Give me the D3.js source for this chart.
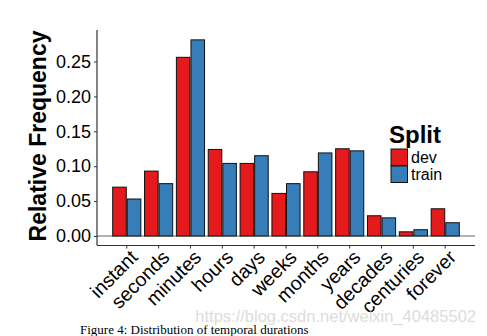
<!DOCTYPE html>
<html><head><meta charset="utf-8">
<script src="https://cdn.jsdelivr.net/npm/d3@7"></script>
<style>body{margin:0;background:#fff}svg{display:block}</style>
</head><body>
<script>
const categories = ["instant","seconds","minutes","hours","days","weeks","months","years","decades","centuries","forever"];
const devValues   = [0.070,0.093,0.256,0.124,0.104,0.061,0.092,0.125,0.029,0.006,0.039];
const trainValues = [0.053,0.075,0.281,0.104,0.115,0.075,0.119,0.122,0.026,0.009,0.019];
const series = ["dev","train"];
const colors = ["#E41A1C","#377EB8"];
const yTicks = [0,0.05,0.10,0.15,0.20,0.25];

const W=487,H=336;
const svg=d3.select("body").append("svg").attr("width",W).attr("height",H);
const font="'Liberation Sans', Arial, Helvetica, sans-serif";

const x=d3.scaleBand().domain(categories).range([112.2,459.8]).paddingInner(0.085).paddingOuter(0);
const xs=d3.scaleBand().domain(series).range([0,x.bandwidth()]);
const y=d3.scaleLinear().domain([0,0.25]).range([236,61.5]);

// zero line
svg.append("line").attr("x1",97).attr("x2",475).attr("y1",y(0)).attr("y2",y(0)).attr("stroke","#666").attr("stroke-width",1.2);

// bars
const data=categories.map((c,i)=>({c,vals:[devValues[i],trainValues[i]]}));
const g=svg.append("g");
data.forEach(d=>{
  d.vals.forEach((v,j)=>{
    g.append("rect")
     .attr("x",x(d.c)+xs(series[j])+0.5)
     .attr("y",y(v))
     .attr("width",xs.bandwidth()-1)
     .attr("height",y(0)-y(v))
     .attr("fill",colors[j]).attr("stroke","#111").attr("stroke-width",1);
  });
});

// y axis
const ya=svg.append("g").attr("transform","translate(97,0)")
  .call(d3.axisLeft(y).tickValues(yTicks).tickFormat(d3.format(".2f")).tickSize(3).tickPadding(3));
ya.select(".domain").remove();
ya.selectAll(".tick line").attr("stroke","#333");
ya.selectAll("text").attr("font-family",font).attr("font-size",18).attr("fill","#000");
svg.append("line").attr("x1",97).attr("x2",97).attr("y1",30).attr("y2",245.5).attr("stroke","#333").attr("stroke-width",1.2);

// x axis
const xa=svg.append("g").attr("transform","translate(0,245.5)")
  .call(d3.axisBottom(x).tickSize(3).tickPadding(2));
xa.select(".domain").remove();
xa.selectAll(".tick line").attr("stroke","#333");
svg.append("line").attr("x1",97).attr("x2",475).attr("y1",245.5).attr("y2",245.5).attr("stroke","#333").attr("stroke-width",1.2);
xa.selectAll("text").attr("font-family",font).attr("font-size",19.5).attr("fill","#000")
  .attr("text-anchor","end").attr("dy",null).attr("y",0)
  .attr("transform","translate(12,13) rotate(-45)");

// y title
svg.append("text").attr("transform","translate(46,136) rotate(-90)")
  .attr("text-anchor","middle").attr("font-family",font).attr("font-weight","bold")
  .attr("font-size",23).text("Relative Frequency");

// legend
svg.append("text").attr("x",389).attr("y",143).attr("font-family",font).attr("font-weight","bold").attr("font-size",24).text("Split");
series.forEach((s,i)=>{
  svg.append("rect").attr("x",391).attr("y",149+i*17).attr("width",16.5).attr("height",16.5)
    .attr("fill",colors[i]).attr("stroke","#111").attr("stroke-width",1);
  svg.append("text").attr("x",411).attr("y",163+i*17).attr("font-family",font).attr("font-size",16).text(s);
});

// watermark & caption
svg.append("text").attr("x",476).attr("y",322).attr("text-anchor","end").attr("font-family",font)
  .attr("font-size",16.5).attr("fill","#dcdcdc").text("https://blog.csdn.net/weixin_40485502");
svg.append("text").attr("x",80).attr("y",334).attr("font-family","'Liberation Serif', 'Times New Roman', serif")
  .attr("font-size",13).attr("fill","#000").text("Figure 4: Distribution of temporal durations");
</script>
</body></html>
